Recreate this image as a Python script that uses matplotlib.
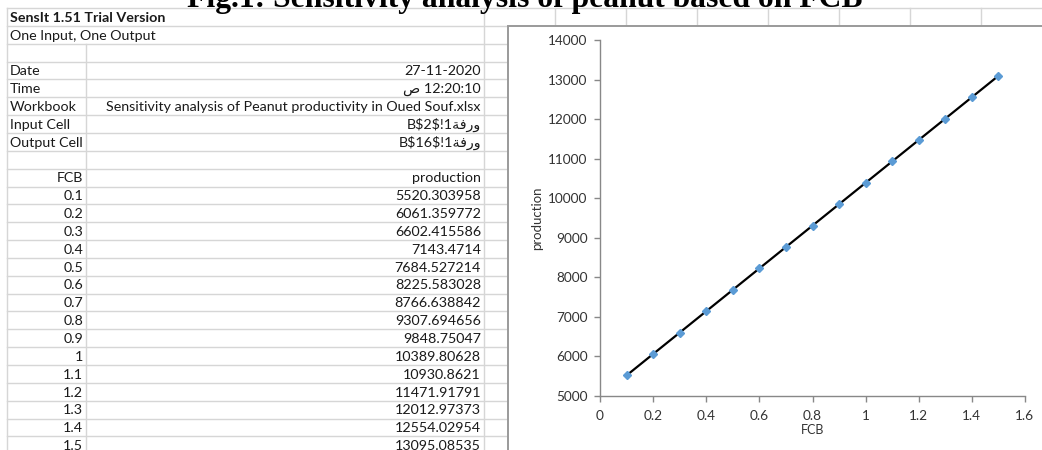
import matplotlib
matplotlib.use("Agg")
import matplotlib.pyplot as plt
from matplotlib.patches import Rectangle

# 1. DATA
fcb = [0.1, 0.2, 0.3, 0.4, 0.5, 0.6, 0.7, 0.8, 0.9, 1.0, 1.1, 1.2, 1.3, 1.4, 1.5]
fcb_labels = ["0.1", "0.2", "0.3", "0.4", "0.5", "0.6", "0.7", "0.8", "0.9", "1",
              "1.1", "1.2", "1.3", "1.4", "1.5"]
production = [5520.303958, 6061.359772, 6602.415586, 7143.4714, 7684.527214,
              8225.583028, 8766.638842, 9307.694656, 9848.75047, 10389.80628,
              10930.8621, 11471.91791, 12012.97373, 12554.02954, 13095.08535]
production_labels = ["5520.303958", "6061.359772", "6602.415586", "7143.4714",
                     "7684.527214", "8225.583028", "8766.638842", "9307.694656",
                     "9848.75047", "10389.80628", "10930.8621", "11471.91791",
                     "12012.97373", "12554.02954", "13095.08535"]

# header block (arabic written in visual order, shaped by hand)
sheet_ar = "\uFE94\uFED3\uFEAD\uFEED"
header_keys = ["Date", "Time", "Workbook", "Input Cell", "Output Cell"]
header_vals = ["27-11-2020", "\uFEB9 12:20:10",
               "Sensitivity analysis of Peanut productivity in Oued Souf.xlsx",
               "B$2$!1" + sheet_ar, "B$16$!1" + sheet_ar]

x_ticks = [0, 0.2, 0.4, 0.6, 0.8, 1, 1.2, 1.4, 1.6]
x_tick_labels = ["0", "0.2", "0.4", "0.6", "0.8", "1", "1.2", "1.4", "1.6"]
y_ticks = [5000, 6000, 7000, 8000, 9000, 10000, 11000, 12000, 13000, 14000]

TITLE = "Fig.1: Sensitivity analysis of peanut based on FCB"

# 2. PAGE GEOMETRY (pixels)
W, H = 1042, 450
ROW_TOP, ROW_H, N_ROWS = 8, 17.85, 25
COL_A, COL_B, COL_C = 7, 86, 484
EXTRA_COLS = [555, 626, 697, 768, 839, 910, 981]
CHART_X, CHART_Y = 508, 26
GRID = "#d6d6d6"
TXT = "#1a1a1a"
FONT = ["Lato", "DejaVu Sans"]
TFS = 10.3

fig = plt.figure(figsize=(W / 100, H / 100), dpi=100)
bg = fig.add_axes([0, 0, 1, 1])
bg.set_xlim(0, W)
bg.set_ylim(H, 0)
bg.axis("off")

# 3. SPREADSHEET GRID
for k in range(N_ROWS + 1):
    y = ROW_TOP + k * ROW_H
    bg.plot([COL_A, W if k == 0 else CHART_X], [y, y], color=GRID, lw=1, zorder=1)
bg.plot([COL_A, COL_A], [ROW_TOP, H], color=GRID, lw=1, zorder=1)
bg.plot([COL_B, COL_B], [ROW_TOP + 2 * ROW_H, H], color=GRID, lw=1, zorder=1)
bg.plot([COL_C, COL_C], [ROW_TOP, H], color=GRID, lw=1, zorder=1)
for x in EXTRA_COLS:
    bg.plot([x, x], [ROW_TOP, CHART_Y], color=GRID, lw=1, zorder=1)


def row_mid(r):
    return ROW_TOP + (r - 0.5) * ROW_H + 0.8


def cell(x, r, s, ha, **kw):
    bg.text(x, row_mid(r), s, fontsize=TFS, family=FONT, color=TXT, va="center",
            ha=ha, parse_math=False, **kw)


cell(10, 1, "SensIt 1.51 Trial Version", "left", fontweight="bold")
cell(10, 2, "One Input, One Output", "left")
for i, (key, val) in enumerate(zip(header_keys, header_vals)):
    cell(10, 4 + i, key, "left")
    cell(COL_C - 3, 4 + i, val, "right")

cell(COL_B - 3, 10, "FCB", "right")
cell(COL_C - 3, 10, "production", "right")
for i, (a, b) in enumerate(zip(fcb_labels, production_labels)):
    cell(COL_B - 3, 11 + i, a, "right")
    cell(COL_C - 3, 11 + i, b, "right")

# title sits above the sheet and is cut by the page top
bg.text(525, 7, TITLE, fontsize=22.8, fontweight="bold", family="Liberation Serif",
        color="black", ha="center", va="baseline", zorder=5)

# 4. CHART OBJECT
bg.add_patch(Rectangle((CHART_X, CHART_Y), 700, 500, facecolor="white",
                       edgecolor="#9a9a9a", lw=1.4, zorder=3))

ax_l, ax_r, ax_t, ax_b = 600, 1025, 40, 396
ax = fig.add_axes([ax_l / W, 1 - ax_b / H, (ax_r - ax_l) / W, (ax_b - ax_t) / H])
ax.set_zorder(4)
ax.patch.set_alpha(0)
ax.plot(fcb, production, color="black", lw=1.6, zorder=2)
ax.plot(fcb, production, linestyle="none", marker="D", ms=4.4,
        color="#5b9bd5", markeredgecolor="#5b9bd5", zorder=3)

ax.set_xlim(0, 1.6)
ax.set_ylim(5000, 14000)
ax.set_xticks(x_ticks)
ax.set_xticklabels(x_tick_labels)
ax.set_yticks(y_ticks)
for s in ["top", "right"]:
    ax.spines[s].set_visible(False)
for s in ["left", "bottom"]:
    ax.spines[s].set_color("#888888")
    ax.spines[s].set_linewidth(1)
ax.tick_params(axis="both", direction="out", length=4, width=1, color="#888888",
               labelsize=9.8, labelcolor="#333333")
ax.tick_params(axis="y", pad=5)
ax.tick_params(axis="x", pad=6)
for lab in ax.get_xticklabels() + ax.get_yticklabels():
    lab.set_family(FONT)

ax.set_xlabel("FCB", fontsize=9, family=FONT, color="#333333")
ax.set_ylabel("production", fontsize=9.5, family=FONT, color="#333333")
ax.xaxis.set_label_coords(0.5, -0.08)
ax.yaxis.set_label_coords(-0.134, 0.5)

fig.savefig("out.png", dpi=100)
